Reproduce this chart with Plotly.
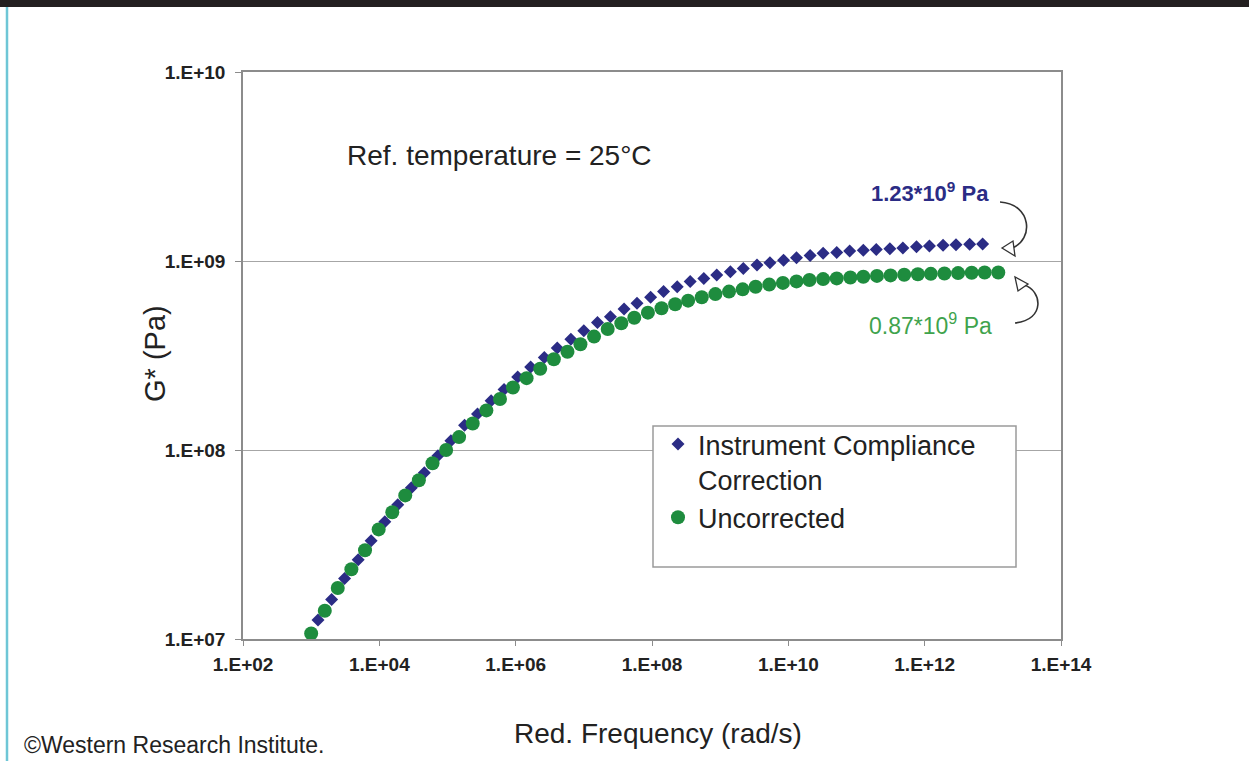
import plotly.graph_objects as go

# ---- data -------------------------------------------------------------
# Reduced frequency exponents (log10 rad/s) for each measured point
corrected_logfreq = [
    3.10, 3.30, 3.49, 3.69, 3.88, 4.08, 4.27, 4.47, 4.66, 4.86,
    5.05, 5.25, 5.44, 5.64, 5.83, 6.03, 6.22, 6.42, 6.61, 6.81,
    7.00, 7.20, 7.39, 7.59, 7.78, 7.98, 8.17, 8.37, 8.56, 8.76,
    8.95, 9.15, 9.34, 9.54, 9.73, 9.93, 10.12, 10.32, 10.51, 10.71,
    10.90, 11.10, 11.29, 11.49, 11.68, 11.88, 12.07, 12.27, 12.46, 12.66,
    12.85,
]
corrected_g = [
    1.26e7, 1.62e7, 2.09e7, 2.63e7, 3.31e7, 4.17e7, 5.13e7, 6.31e7, 7.59e7, 9.33e7,
    1.12e8, 1.35e8, 1.55e8, 1.82e8, 2.09e8, 2.43e8, 2.75e8, 3.09e8, 3.47e8, 3.85e8,
    4.28e8, 4.72e8, 5.07e8, 5.57e8, 5.97e8, 6.43e8, 6.89e8, 7.31e8, 7.78e8, 8.09e8,
    8.43e8, 8.77e8, 9.14e8, 9.53e8, 9.79e8, 1.01e9, 1.04e9, 1.07e9, 1.10e9, 1.11e9,
    1.13e9, 1.14e9, 1.15e9, 1.16e9, 1.17e9, 1.19e9, 1.20e9, 1.21e9, 1.22e9, 1.225e9,
    1.23e9,
]

uncorrected_logfreq = [
    3.00, 3.20, 3.39, 3.59, 3.79, 3.99, 4.19, 4.38, 4.58, 4.78,
    4.98, 5.17, 5.37, 5.57, 5.77, 5.96, 6.16, 6.36, 6.56, 6.76,
    6.95, 7.15, 7.35, 7.55, 7.74, 7.94, 8.14, 8.34, 8.53, 8.73,
    8.93, 9.13, 9.33, 9.52, 9.72, 9.92, 10.12, 10.31, 10.51, 10.71,
    10.91, 11.10, 11.30, 11.50, 11.70, 11.90, 12.09, 12.29, 12.49, 12.69,
    12.88, 13.08,
]
uncorrected_g = [
    1.07e7, 1.41e7, 1.86e7, 2.34e7, 2.95e7, 3.80e7, 4.68e7, 5.75e7, 6.92e7, 8.51e7,
    1.00e8, 1.17e8, 1.38e8, 1.62e8, 1.86e8, 2.14e8, 2.40e8, 2.69e8, 3.02e8, 3.31e8,
    3.63e8, 3.98e8, 4.37e8, 4.68e8, 5.01e8, 5.33e8, 5.62e8, 5.90e8, 6.17e8, 6.43e8,
    6.68e8, 6.89e8, 7.08e8, 7.31e8, 7.50e8, 7.66e8, 7.80e8, 7.93e8, 8.02e8, 8.09e8,
    8.18e8, 8.26e8, 8.34e8, 8.39e8, 8.45e8, 8.51e8, 8.55e8, 8.59e8, 8.63e8, 8.67e8,
    8.69e8, 8.70e8,
]

x_tick_vals = [1e2, 1e4, 1e6, 1e8, 1e10, 1e12, 1e14]
x_tick_text = ["1.E+02", "1.E+04", "1.E+06", "1.E+08", "1.E+10", "1.E+12", "1.E+14"]
y_tick_vals = [1e7, 1e8, 1e9, 1e10]
y_tick_text = ["1.E+07", "1.E+08", "1.E+09", "1.E+10"]

# ---- page geometry ----------------------------------------------------
W, H = 1249, 761
L, R, T, B = 243, 188, 72, 122
PW, PH = W - L - R, H - T - B


def px(x):
    """Page pixel column -> paper fraction."""
    return (x - L) / PW


def py(y):
    """Page pixel row -> paper fraction."""
    return (H - B - y) / PH


def curve(start, c1, c2, end):
    return "M {:.5f},{:.5f} C {:.5f},{:.5f} {:.5f},{:.5f} {:.5f},{:.5f}".format(
        px(start[0]), py(start[1]), px(c1[0]), py(c1[1]),
        px(c2[0]), py(c2[1]), px(end[0]), py(end[1]))


def triangle(a, b, c):
    return "M {:.5f},{:.5f} L {:.5f},{:.5f} L {:.5f},{:.5f} Z".format(
        px(a[0]), py(a[1]), px(b[0]), py(b[1]), px(c[0]), py(c[1]))


FONT = "Liberation Sans, Arial, Helvetica, sans-serif"
BLUE = "#2B2C85"
GREEN = "#1E8C3E"

fig = go.Figure()
fig.add_trace(go.Scatter(
    x=[10 ** v for v in corrected_logfreq], y=corrected_g,
    mode="markers", name="Instrument Compliance<br>Correction",
    marker=dict(symbol="diamond", size=10, color=BLUE),
))
fig.add_trace(go.Scatter(
    x=[10 ** v for v in uncorrected_logfreq], y=uncorrected_g,
    mode="markers", name="Uncorrected",
    marker=dict(symbol="circle", size=14, color=GREEN),
))

fig.update_xaxes(
    type="log", range=[2, 14], tickvals=x_tick_vals, ticktext=x_tick_text,
    showgrid=False, zeroline=False, showline=True, linecolor="#8C8C8C",
    linewidth=1.5, mirror=True, ticks="outside", ticklen=5, tickcolor="#8C8C8C",
    tickfont=dict(family=FONT, size=19, color="#222222", weight="bold"),
    ticklabelstandoff=2,
)
fig.update_yaxes(
    type="log", range=[7, 10], tickvals=y_tick_vals, ticktext=y_tick_text,
    showgrid=True, gridcolor="#A6A6A6", gridwidth=1.3, zeroline=False,
    showline=True, linecolor="#8C8C8C", linewidth=1.5, mirror=True,
    ticks="outside", ticklen=6, tickcolor="#8C8C8C",
    tickfont=dict(family=FONT, size=19, color="#222222", weight="bold"),
    ticklabelstandoff=6,
)

shapes = [
    # black band across the top of the page
    dict(type="rect", xref="paper", yref="paper", x0=px(0), x1=px(W), y0=py(7), y1=py(0),
         fillcolor="#231F20", line_width=0, layer="above"),
    # cyan rule on the left edge
    dict(type="line", xref="paper", yref="paper", x0=px(7), x1=px(7), y0=py(7), y1=py(H),
         line=dict(color="#6EC6D6", width=2.5), layer="above"),
    # legend frame
    dict(type="rect", xref="paper", yref="paper", x0=px(653), x1=px(1016), y0=py(567), y1=py(426),
         fillcolor="white", line=dict(color="#9A9A9A", width=1.5), layer="above"),
    # curved pointer to the corrected plateau
    dict(type="path", xref="paper", yref="paper",
         path=curve((1000, 202), (1032, 204), (1034, 240), (1012, 248)),
         line=dict(color="#333333", width=1.6), layer="above"),
    dict(type="path", xref="paper", yref="paper",
         path=triangle((1002, 248), (1013, 241), (1015, 256)),
         fillcolor="white", line=dict(color="#333333", width=1.3), layer="above"),
    # curved pointer to the uncorrected plateau
    dict(type="path", xref="paper", yref="paper",
         path=curve((1015, 323), (1046, 320), (1042, 290), (1024, 285)),
         line=dict(color="#333333", width=1.6), layer="above"),
    dict(type="path", xref="paper", yref="paper",
         path=triangle((1015, 277), (1018, 291), (1028, 284)),
         fillcolor="white", line=dict(color="#333333", width=1.3), layer="above"),
]

annotations = [
    dict(text="Ref. temperature = 25°C", x=px(345), y=py(155), xanchor="left", yanchor="middle",
         font=dict(family=FONT, size=28, color="#222222")),
    dict(text="<b>1.23*10<sup>9</sup> Pa</b>", x=px(991), y=py(192), xanchor="right", yanchor="middle",
         font=dict(family=FONT, size=22, color=BLUE)),
    dict(text="0.87*10<sup>9</sup> Pa", x=px(994), y=py(324), xanchor="right", yanchor="middle",
         font=dict(family=FONT, size=23, color="#3FA34D")),
    dict(text="G* (Pa)", x=px(155), y=py(354), xanchor="center", yanchor="middle", textangle=-90,
         font=dict(family=FONT, size=29, color="#222222")),
    dict(text="Red. Frequency (rad/s)", x=px(658), y=py(733), xanchor="center", yanchor="middle",
         font=dict(family=FONT, size=28, color="#222222")),
    dict(text="©Western Research Institute.", x=px(22), y=py(745), xanchor="left", yanchor="middle",
         font=dict(family=FONT, size=23, color="#222222")),
]
for a in annotations:
    a.update(xref="paper", yref="paper", showarrow=False)

fig.update_layout(
    width=W, height=H, margin=dict(l=L, r=R, t=T, b=B),
    paper_bgcolor="white", plot_bgcolor="white",
    shapes=shapes, annotations=annotations,
    showlegend=True,
    legend=dict(
        x=px(658), y=py(420), xanchor="left", yanchor="top",
        bgcolor="rgba(0,0,0,0)", borderwidth=0, valign="top",
        font=dict(family=FONT, size=27, color="#222222"),
        tracegroupgap=0,
    ),
)

fig.write_html("out.html")
